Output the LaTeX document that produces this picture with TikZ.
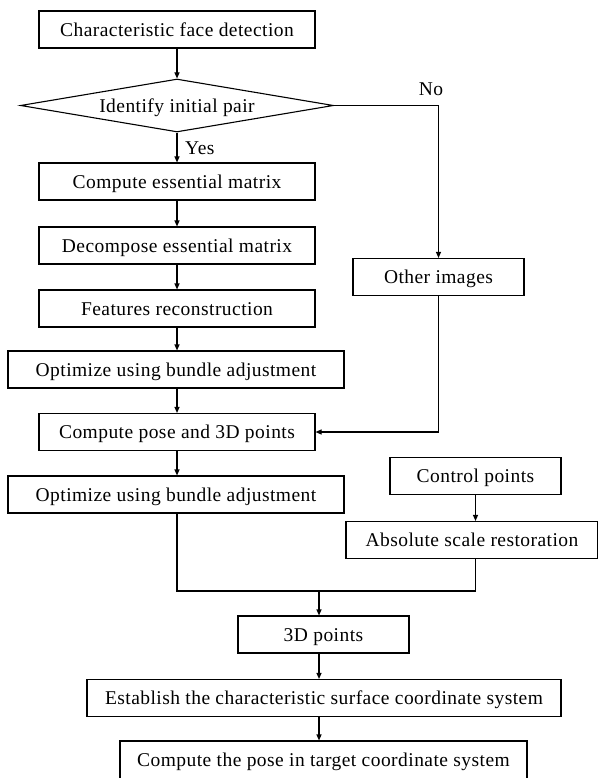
\documentclass[tikz,border=0pt]{standalone}
\usepackage{fontspec}
\setmainfont{Liberation Serif}[LetterSpace=2.3]
\usetikzlibrary{arrows.meta,shapes.geometric}
\tikzset{
  txt/.style={font=\fontsize{19.5}{22}\selectfont, text height=13.6pt, text depth=0pt},
  box/.style={draw, line width=1.1pt, rectangle, minimum height=37pt, inner sep=0pt, txt},
  arr/.style={-{Triangle[length=6pt,width=5pt]}, line width=1.1pt},
  ln/.style={line width=1.1pt},
  lbl/.style={inner sep=0pt, txt}
}
\begin{document}
\begin{tikzpicture}[x=1pt,y=-1pt]
\useasboundingbox (0,0) rectangle (597,778);
\node[box, minimum width=276pt] (b1) at (177,29.5) {Characteristic face detection};
\node[draw, line width=1.1pt, diamond, aspect=5.9, minimum width=313pt, minimum height=53pt, inner sep=0pt, txt] (dia) at (177,105.5) {Identify initial pair};
\node[box, minimum width=276pt] (ess) at (177,181.5) {Compute essential matrix};
\node[box, minimum width=276pt] (dec) at (177,245.5) {Decompose essential matrix};
\node[box, minimum width=276pt] (feat) at (177,308.5) {Features reconstruction};
\node[box, minimum width=336pt] (opt1) at (176,369.5) {Optimize using bundle adjustment};
\node[box, minimum width=276pt] (pose) at (177,432) {Compute pose and 3D points};
\node[box, minimum width=336pt] (opt2) at (176,494.5) {Optimize using bundle adjustment};
\node[box, minimum width=171pt] (oth) at (438.5,277) {Other images};
\node[box, minimum width=171pt] (ctrl) at (475.5,476) {Control points};
\node[box, minimum width=252pt] (abs) at (472,540) {Absolute scale restoration};
\node[box, minimum width=171pt] (p3d) at (323.5,634.5) {3D points};
\node[box, minimum width=474pt] (est) at (324,698) {Establish the characteristic surface coordinate system};
\node[box, minimum width=407pt, minimum height=38pt] (tgt) at (323.5,760) {Compute the pose in target coordinate system};
\node[lbl, anchor=west] (yes) at (185,147.5) {Yes};
\node[lbl] (no) at (431,88.5) {No};
\coordinate (j) at (319,591);
\draw[arr] (b1) -- (dia);
\draw[arr] (dia.south) -- (ess.north);
\draw[arr] (ess) -- (dec);
\draw[arr] (dec) -- (feat);
\draw[arr] (feat.south) -- (feat.south |- opt1.north);
\draw[arr] (opt1.south -| feat) -- (pose.north);
\draw[arr] (pose.south) -- (pose.south |- opt2.north);
\draw[arr] (dia.east) -| (oth.north);
\draw[arr] (oth.south) |- (pose.east);
\draw[arr] (ctrl.south) -- (ctrl.south |- abs.north);
\draw[ln] (opt2.south -| pose) |- (j);
\draw[ln] (abs.south -| ctrl) |- (j);
\draw[arr] (j) -- (j |- p3d.north);
\draw[arr] (j |- p3d.south) -- (j |- est.north);
\draw[arr] (j |- est.south) -- (j |- tgt.north);
\end{tikzpicture}
\end{document}
